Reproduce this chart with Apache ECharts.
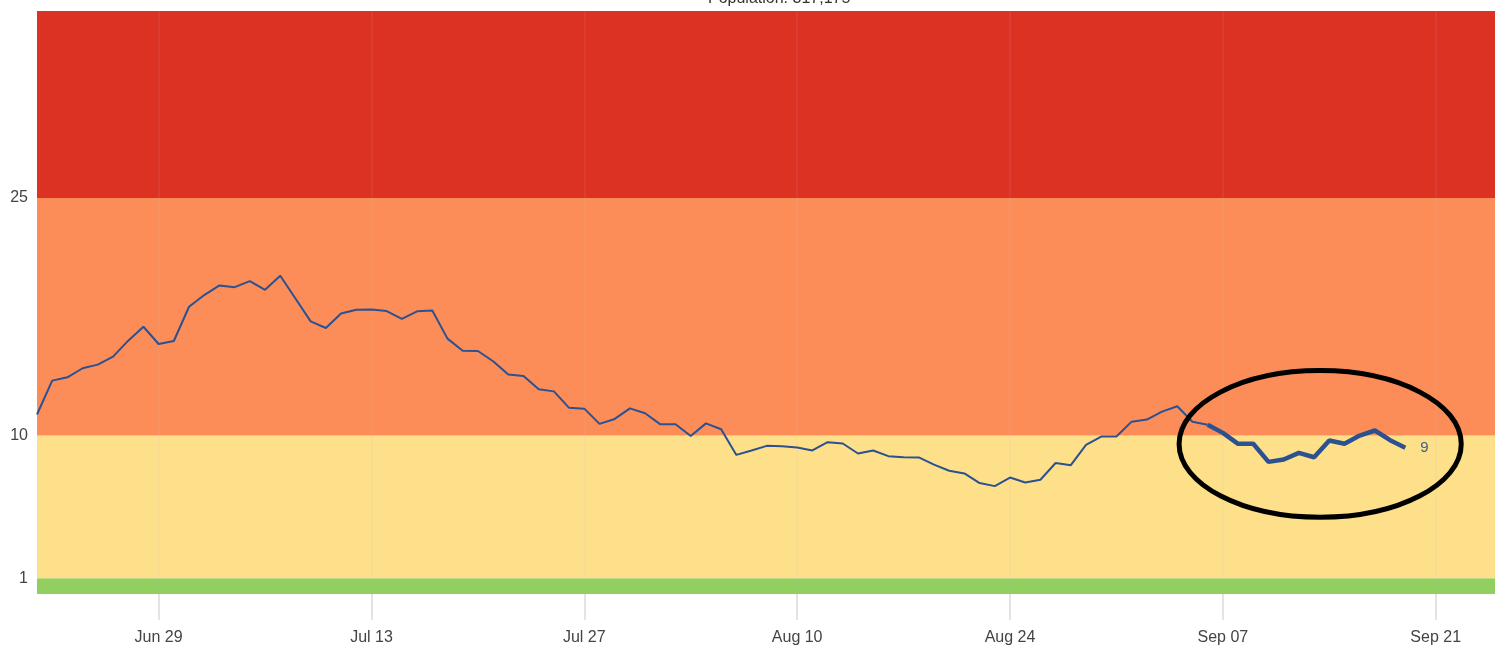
<!DOCTYPE html>
<html>
<head>
<meta charset="utf-8">
<script src="https://cdn.jsdelivr.net/npm/echarts@6/dist/echarts.min.js"></script>
<style>
  html, body { margin: 0; padding: 0; background: #ffffff; }
  #chart { width: 1495px; height: 646px; }
</style>
</head>
<body>
<div id="chart"></div>
<script>
// ---- data (day index 0 = Jun 21) ----
const titleText = 'Population: 317,175';
const values = [
  11.33, 13.47, 13.68, 14.25, 14.48, 14.98, 15.99, 16.87, 15.78, 15.97,
  18.13, 18.87, 19.48, 19.37, 19.75, 19.20, 20.09, 18.65, 17.21, 16.79,
  17.71, 17.94, 17.96, 17.86, 17.37, 17.84, 17.90, 16.12, 15.36, 15.34,
  14.69, 13.85, 13.76, 12.92, 12.79, 11.75, 11.70, 10.74, 11.05, 11.72,
  11.41, 10.71, 10.71, 9.97, 10.77, 10.40, 8.78, 9.06, 9.35, 9.33,
  9.25, 9.06, 9.58, 9.50, 8.87, 9.06, 8.70, 8.63, 8.62, 8.17,
  7.78, 7.61, 7.00, 6.81, 7.35, 7.04, 7.21, 8.27, 8.13, 9.41,
  9.94, 9.94, 10.88, 11.01, 11.51, 11.85, 10.87, 10.68, 10.17, 9.48,
  9.48, 8.34, 8.49, 8.91, 8.63, 9.69, 9.48, 10.00, 10.32, 9.71,
  9.23
];
const highlightStart = 77;              // Sep 06
const xTickDays = [8, 22, 36, 50, 64, 78, 92];
const xTickLabels = ['Jun 29', 'Jul 13', 'Jul 27', 'Aug 10', 'Aug 24', 'Sep 07', 'Sep 21'];
const yTickValues = [1, 10, 25];
const bandEdges = [0, 1, 10, 25];       // green, yellow, orange, red (to top)
const bandColors = ['#91CF60', '#FEE08B', '#FC8D59', '#DB3224'];
const xMin = 0, xMax = 95.9, yMin = 0, yMax = 36.8;
// annotation ellipse (data units)
const ellipseCenter = [84.4, 9.47];
const ellipseHalf = [9.28, 4.63];

// ---- build ----
const thinData = values.slice(0, highlightStart + 1).map((v, i) => [i, v]);
const thickData = values.slice(highlightStart).map((v, i) => [i + highlightStart, v]);

const bands = [];
for (let i = 0; i < bandEdges.length; i++) {
  const top = i + 1 < bandEdges.length ? bandEdges[i + 1] : yMax;
  bands.push([
    { yAxis: bandEdges[i], itemStyle: { color: bandColors[i] } },
    { yAxis: top }
  ]);
}

const font = 'Liberation Sans, Arial, sans-serif';
const chart = echarts.init(document.getElementById('chart'), null, { renderer: 'canvas' });
const option = {
  animation: false,
  backgroundColor: '#ffffff',
  title: {
    text: titleText,
    left: 703,
    top: -14,
    textStyle: { fontFamily: font, fontSize: 16, fontWeight: 'normal', color: '#333' }
  },
  grid: { left: 37, right: 0, top: 11, bottom: 51, containLabel: false },
  xAxis: {
    type: 'value',
    min: xMin, max: xMax,
    axisLine: { show: false },
    axisTick: { show: true, customValues: xTickDays, length: 26, lineStyle: { color: '#e3e3e3', width: 2 } },
    axisLabel: {
      customValues: xTickDays,
      formatter: (v) => xTickLabels[xTickDays.indexOf(Math.round(v))] || '',
      margin: 36,
      color: '#444',
      fontSize: 16,
      fontFamily: font
    },
    splitLine: { show: true, lineStyle: { color: 'rgba(190,190,190,0.12)', width: 1.5 } },
    z: 3
  },
  yAxis: {
    type: 'value',
    min: yMin, max: yMax,
    axisLine: { show: false },
    axisTick: { show: false },
    axisLabel: {
      customValues: yTickValues,
      color: '#444',
      fontSize: 16,
      margin: 9,
      fontFamily: font
    },
    splitLine: { show: false }
  },
  series: [
    {
      type: 'line',
      data: [],
      z: 1,
      silent: true,
      markArea: { silent: true, data: bands }
    },
    {
      type: 'line',
      data: thinData,
      z: 5,
      showSymbol: false,
      symbol: 'none',
      lineStyle: { color: '#2B5190', width: 2 }
    },
    {
      type: 'line',
      data: thickData,
      z: 6,
      showSymbol: false,
      symbol: 'none',
      lineStyle: { color: '#2B5190', width: 4.5 },
      endLabel: {
        show: true,
        formatter: (p) => String(Math.round(p.value[1])),
        distance: 15,
        color: '#3D5C8E',
        fontSize: 15,
        fontFamily: font
      }
    }
  ]
};
chart.setOption(option);

// annotation ellipse positioned in data coordinates
const c = chart.convertToPixel({ gridIndex: 0 }, ellipseCenter);
const e = chart.convertToPixel({ gridIndex: 0 }, [ellipseCenter[0] + ellipseHalf[0], ellipseCenter[1] + ellipseHalf[1]]);
chart.setOption({
  graphic: [{
    type: 'ellipse',
    z: 100,
    shape: { cx: c[0], cy: c[1], rx: Math.abs(e[0] - c[0]), ry: Math.abs(c[1] - e[1]) },
    style: { fill: 'none', stroke: '#000000', lineWidth: 5 }
  }]
});
</script>
</body>
</html>
